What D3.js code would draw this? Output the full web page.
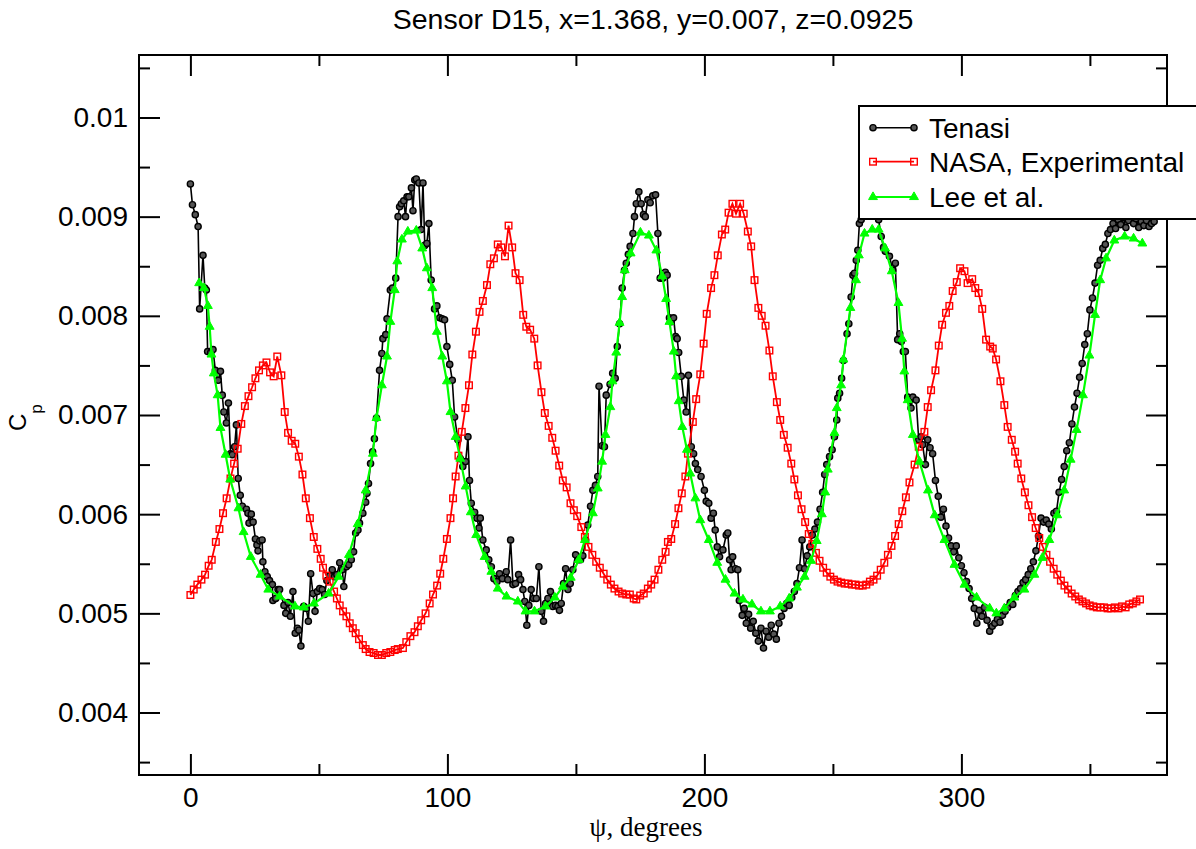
<!DOCTYPE html>
<html><head><meta charset="utf-8">
<script src="https://cdn.jsdelivr.net/npm/d3@7"></script>
<style>body{margin:0;background:#fff} svg{display:block}</style>
</head><body>
<svg id="chart" width="1196" height="849"></svg>
<script>
// ---------- data (psi in degrees, Cp) ----------
const tenasi = [
[0,0.00933],[0.8,0.00912],[1.9,0.00902],[3.0,0.0089],[3.6,0.00807],[4.9,0.00861],[5.6,0.00828],[6.2,0.00826],
[6.7,0.00764],[7.9,0.00763],[8.8,0.00766],[9.7,0.00745],[10.8,0.00735],[11.7,0.00744],[12.4,0.0072],[13.0,0.00703],
[14.0,0.00692],[14.8,0.00712],[15.6,0.00661],[16.3,0.0066],[17.2,0.00668],[17.9,0.0069],[18.6,0.00636],[19.4,0.00619],
[20.2,0.00608],[21.8,0.00605],[22.4,0.00601],[22.8,0.00591],[23.7,0.006],[24.4,0.00592],[25.3,0.00575],[25.9,0.00569],
[26.3,0.00563],[27.0,0.00573],[27.9,0.00574],[28.2,0.00552],[29.0,0.00542],[29.9,0.00537],[30.8,0.00533],[31.9,0.00529],
[32.1,0.00513],[33.2,0.00515],[34.1,0.00524],[34.7,0.00524],[36.4,0.00508],[37.1,0.005],[38.0,0.00511],[38.9,0.00497],
[39.9,0.00522],[40.8,0.0048],[41.6,0.00485],[42.2,0.00483],[43.0,0.00467],[44.1,0.00507],[45.1,0.00505],[45.9,0.00492],
[46.8,0.0054],[47.7,0.0052],[48.5,0.00502],[49.4,0.00522],[50.3,0.00525],[51.3,0.00524],[52.2,0.00519],[53.1,0.00533],
[54.2,0.00538],[55.2,0.00544],[56.1,0.00537],[57.0,0.00539],[58.1,0.00551],[59.1,0.00544],[59.7,0.00527],[60.7,0.00547],
[61.6,0.00549],[62.6,0.00554],[63.5,0.00562],[64.3,0.00581],[65.2,0.00584],[65.8,0.00591],[67.1,0.00601],[68.2,0.00612],
[68.7,0.00621],[69.3,0.00631],[70.1,0.00651],[70.9,0.00663],[71.6,0.00676],[72.4,0.00697],[73.6,0.00745],[74.5,0.00762],
[74.9,0.00777],[76.0,0.00781],[76.5,0.00797],[77.8,0.00826],[78.6,0.00828],[79.9,0.00838],[80.8,0.009],[81.4,0.0091],
[82.1,0.00913],[83.0,0.00916],[83.7,0.009],[84.3,0.0092],[85.0,0.0092],[86.0,0.00929],[86.6,0.00906],[87.3,0.00937],
[87.9,0.00938],[88.9,0.00934],[89.8,0.00887],[90.5,0.00934],[91.2,0.00871],[92.0,0.00873],[92.8,0.00893],[93.7,0.00836],
[95.0,0.00807],[95.9,0.0081],[97.0,0.00798],[98.0,0.00797],[98.9,0.00796],[99.8,0.00769],[100.9,0.00751],[101.9,0.00735],
[102.8,0.00698],[104.1,0.00675],[105.0,0.00656],[106.0,0.00648],[107.1,0.00653],[108.0,0.00678],[108.6,0.00634],[109.3,0.00611],
[110.6,0.00602],[111.5,0.00596],[112.3,0.00586],[112.8,0.00596],[113.8,0.00574],[115.1,0.00564],[116.1,0.00554],[117.1,0.00547],
[118.1,0.00535],[119.3,0.00532],[120.3,0.0054],[121.4,0.00535],[122.9,0.00542],[123.5,0.00534],[124.6,0.00574],[125.5,0.00529],
[126.5,0.0053],[127.7,0.00539],[128.5,0.00534],[129.4,0.00524],[130.1,0.00512],[130.9,0.00488],[131.7,0.00508],[132.6,0.00524],
[133.5,0.00515],[134.6,0.00515],[135.6,0.00547],[136.5,0.00502],[137.4,0.00492],[138.2,0.0051],[139.1,0.00515],[140.1,0.00522],
[141.0,0.00507],[142.1,0.00508],[143.0,0.00507],[143.6,0.00503],[144.3,0.0051],[145.2,0.0053],[146.0,0.00545],[146.9,0.00524],
[147.8,0.0053],[148.8,0.00544],[149.9,0.00559],[150.9,0.00554],[151.8,0.00554],[152.7,0.00558],[153.8,0.00574],[154.6,0.00589],
[155.7,0.00608],[156.6,0.00624],[157.6,0.00629],[158.5,0.00638],[159.0,0.00729],[160.2,0.00669],[161.1,0.00668],[161.8,0.0072],
[163.3,0.00731],[164.3,0.00742],[165.3,0.00737],[166.1,0.00769],[167.0,0.00792],[168.0,0.00828],[168.9,0.00846],[169.6,0.00853],
[170.4,0.00862],[171.1,0.0087],[172.2,0.00883],[172.8,0.009],[173.5,0.00913],[174.5,0.00925],[175.4,0.00913],[176.3,0.00902],
[177.0,0.009],[178.0,0.00917],[178.9,0.00914],[179.9,0.00921],[181.0,0.00922],[181.9,0.00883],[182.8,0.00838],[183.8,0.00838],
[184.8,0.00844],[185.5,0.00841],[186.4,0.00798],[187.1,0.00794],[188.0,0.00798],[188.8,0.00779],[189.4,0.00777],[190.0,0.00763],
[191.0,0.00739],[192.0,0.00715],[192.9,0.00703],[193.8,0.0074],[194.9,0.00668],[195.8,0.00661],[196.5,0.00651],[197.4,0.00645],
[198.7,0.00638],[200.0,0.00624],[200.7,0.00613],[201.7,0.00611],[202.6,0.00596],[203.5,0.00601],[204.2,0.00584],[205.0,0.00567],
[205.9,0.00557],[207.2,0.00564],[208.5,0.00579],[209.1,0.00581],[209.8,0.00554],[210.4,0.00544],[211.0,0.00557],[212.1,0.00545],
[213.0,0.00544],[213.6,0.00513],[214.7,0.00498],[215.5,0.00505],[216.3,0.0049],[217.2,0.00499],[218.0,0.00485],[219.0,0.00492],
[220.0,0.0048],[221.0,0.00472],[222.0,0.00485],[223.0,0.00465],[224.0,0.00482],[225.0,0.00476],[226.0,0.00488],[227.0,0.00479],
[228.0,0.00474],[229.0,0.0049],[230.0,0.00497],[231.0,0.00505],[232.0,0.0051],[233.0,0.00508],[234.0,0.00516],[235.0,0.00522],
[236.0,0.0053],[237.0,0.00546],[238.0,0.00574],[239.0,0.00545],[240.0,0.00558],[241.0,0.00567],[242.0,0.00579],[243.0,0.00585],
[244.0,0.00592],[245.0,0.00605],[246.0,0.00622],[246.8,0.0064],[247.6,0.0065],[248.7,0.00658],[249.7,0.00665],[250.6,0.00678],
[251.5,0.00695],[251.9,0.00717],[252.6,0.00722],[253.4,0.00737],[254.1,0.00755],[255.5,0.00782],[256.2,0.00792],[257.1,0.00819],
[257.8,0.00841],[258.4,0.00843],[259.1,0.00856],[259.7,0.00866],[260.3,0.00893],[261.0,0.00897],[262.7,0.00907],[264.3,0.00917],
[265.8,0.00922],[267.0,0.00915],[267.8,0.00897],[268.8,0.0088],[269.7,0.00869],[270.4,0.00865],[272.0,0.0086],[273.3,0.00846],
[274.3,0.00853],[275.2,0.00776],[276.0,0.00782],[276.6,0.00774],[277.4,0.00764],[278.2,0.00764],[279.1,0.00718],[279.8,0.00715],
[280.4,0.00707],[281.1,0.00718],[282.4,0.00715],[283.4,0.00675],[284.3,0.00678],[284.9,0.0067],[286.0,0.0065],[286.9,0.00675],
[287.8,0.00667],[288.8,0.00661],[289.9,0.00634],[291,0.00618],[292,0.00597],[293,0.00605],[294,0.00588],[295,0.00576],
[296,0.00568],[297,0.00562],[298,0.00568],[299,0.00556],[300,0.00548],[301,0.00541],[302,0.00532],[303,0.00525],
[304,0.00515],[305,0.00505],[306,0.0049],[307,0.00503],[308,0.00497],[309,0.00506],[310,0.00493],[311,0.00482],
[312,0.00487],[313,0.0049],[314,0.00494],[315,0.00491],[316,0.00498],[317,0.00502],[318,0.00506],[319,0.00511],
[320,0.00509],[321,0.00518],[322,0.00522],[323,0.00525],[324,0.00531],[325,0.00534],[326,0.00539],[327,0.00545],
[328,0.00552],[329,0.00563],[330,0.00578],[331,0.00596],[332,0.00592],[333,0.00594],[334,0.0059],[335,0.00585],
[336,0.00601],[337,0.00603],[338,0.00622],[339,0.00635],[340,0.00648],[341,0.00664],[342,0.00672],[343,0.00691],
[344,0.00708],[345,0.00722],[346,0.00738],[347,0.00752],[348,0.00771],[349,0.00782],[350,0.00806],[351,0.00818],
[352,0.00833],[353,0.00851],[354,0.00856],[355,0.00868],[356,0.00872],[357,0.00883],[358,0.00887],[359,0.00893],
[360,0.00888],[361,0.00897],[362,0.00892],[363,0.00899],[364,0.00889],[365,0.00896],[366,0.00902],[367,0.00893],
[368,0.00898],[369,0.00889],[370,0.00895],[371,0.00891],[372,0.00896],[373,0.0089],[374,0.00893],[375,0.00895]
];

const nasa = [
[0,0.005185],[1.3,0.00524],[2.7,0.00529],[4.3,0.00534],[5.7,0.00539],[7.1,0.00548],[8.3,0.00554],[9.9,0.00572],
[11.3,0.00585],[12.7,0.00601],[14.1,0.00616],[15.6,0.00636],[17.0,0.00651],[18.4,0.00666],[19.8,0.00691],[21.2,0.00709],
[22.6,0.00719],[24.0,0.00728],[25.3,0.00737],[26.7,0.00745],[28.2,0.0075],[29.6,0.00753],[31.0,0.00743],[32.4,0.00739],
[33.8,0.00759],[35.4,0.0074],[36.7,0.00703],[38.0,0.00682],[39.4,0.00674],[40.8,0.00671],[42.2,0.00658],[43.6,0.0064],
[44.9,0.00616],[46.5,0.00596],[48.0,0.00577],[49.4,0.00565],[50.7,0.00555],[51.6,0.00546],[52.9,0.00538],[54.2,0.00532],
[55.9,0.00522],[57.0,0.00515],[58.1,0.00508],[59.4,0.00502],[60.7,0.00497],[62.0,0.0049],[63.2,0.00485],[64.3,0.0048],
[65.6,0.00474],[67.1,0.00468],[68.2,0.00464],[69.7,0.00461],[71.3,0.0046],[73.0,0.00458],[74.5,0.00458],[76.2,0.0046],
[77.8,0.00461],[79.5,0.00463],[80.7,0.00464],[82.7,0.00465],[84.0,0.00471],[85.6,0.00477],[87.2,0.00481],[88.5,0.00487],
[89.8,0.00493],[91.5,0.005],[93.1,0.0051],[94.4,0.00519],[96.0,0.00528],[97.2,0.0054],[98.4,0.00555],[99.8,0.00575],
[101.2,0.00596],[102.2,0.00616],[103.2,0.00638],[104.3,0.00659],[105.6,0.00683],[107.0,0.00707],[108.4,0.0073],[109.7,0.00761],
[111.1,0.00784],[112.5,0.00804],[113.8,0.00815],[115.4,0.00831],[116.7,0.00852],[118.1,0.00858],[119.6,0.00872],[121.0,0.00869],
[122.4,0.0086],[123.8,0.00891],[125.2,0.00869],[126.5,0.00843],[128.1,0.00836],[129.5,0.00801],[130.7,0.00789],[132.2,0.00786],
[133.8,0.00777],[135.1,0.0075],[136.6,0.00723],[137.9,0.00702],[139.4,0.00689],[140.8,0.00677],[142.1,0.00664],[143.5,0.00649],
[144.9,0.00634],[146.4,0.00627],[147.9,0.00611],[149.2,0.00604],[150.5,0.00598],[152.1,0.00587],[153.5,0.00577],[154.9,0.00567],
[156.4,0.00559],[157.9,0.00552],[159.3,0.00546],[160.8,0.0054],[162.2,0.00534],[163.6,0.00529],[165.0,0.00525],[166.6,0.00522],
[168.0,0.0052],[169.6,0.00519],[171.0,0.00519],[172.5,0.00515],[173.5,0.00514],[175.0,0.00518],[176.4,0.0052],[178.0,0.00525],
[179.3,0.00529],[180.6,0.00534],[182.1,0.00544],[183.6,0.00554],[184.9,0.00562],[185.8,0.00572],[187.1,0.00575],[188.6,0.0059],
[189.9,0.00606],[191.2,0.00621],[192.6,0.00638],[193.6,0.00661],[195.5,0.00693],[196.8,0.00716],[198.4,0.00741],[199.7,0.00772],
[200.9,0.00802],[202.6,0.00828],[203.9,0.00841],[205.2,0.00861],[206.8,0.00882],[208.1,0.00887],[209.4,0.00904],[210.9,0.00913],
[212.3,0.00903],[213.9,0.00913],[215.3,0.00903],[216.9,0.00885],[218.2,0.0087],[219.5,0.00836],[221.0,0.00808],[222.3,0.008],
[223.8,0.0079],[225.3,0.00765],[226.6,0.00739],[228.2,0.00713],[229.5,0.00695],[230.9,0.0068],[232.4,0.00667],[233.8,0.00651],
[235.0,0.00635],[236.4,0.00619],[237.8,0.00605],[239.2,0.00592],[240.6,0.0058],[242.0,0.0057],[243.4,0.00561],[244.8,0.00553],
[246.2,0.00546],[247.6,0.00541],[249.0,0.00537],[250.4,0.00534],[251.8,0.00532],[253.2,0.00531],[254.6,0.0053],[256.0,0.0053],
[257.4,0.00529],[258.8,0.00529],[260.2,0.00528],[261.6,0.00528],[263.0,0.00529],[264.4,0.00532],[265.8,0.00534],[267.2,0.00538],
[268.6,0.00544],[270.0,0.00551],[271.4,0.00559],[272.8,0.00568],[274.2,0.00578],[275.6,0.0059],[277.0,0.00603],[278.4,0.00617],
[279.8,0.00632],[281.8,0.0065],[283.4,0.00668],[285.6,0.00683],[286.9,0.00708],[288.2,0.00725],[289.9,0.00745],[291.2,0.0077],
[292.5,0.00791],[294.0,0.00803],[295.3,0.0081],[296.6,0.00825],[298.2,0.00834],[299.5,0.00848],[301.2,0.00845],[302.4,0.00833],
[304.2,0.00837],[305.4,0.00828],[306.7,0.00823],[308.1,0.00807],[309.6,0.00776],[311.2,0.00769],[312.2,0.00767],[313.5,0.00756],
[315.2,0.00734],[316.7,0.0071],[318.0,0.00688],[319.6,0.00675],[320.9,0.00663],[321.9,0.00651],[323.3,0.00636],[324.7,0.00622],
[326.1,0.00609],[327.5,0.00597],[328.9,0.00586],[330.3,0.00576],[331.7,0.00567],[333.1,0.00559],[334.5,0.00552],[335.9,0.00545],
[337.3,0.00539],[338.7,0.00533],[340.1,0.00528],[341.5,0.00524],[342.9,0.0052],[344.3,0.00517],[345.7,0.00514],[347.1,0.00512],
[348.5,0.0051],[349.9,0.00508],[351.3,0.00507],[352.7,0.00506],[354.1,0.00506],[355.5,0.00506],[356.9,0.00505],[358.3,0.00505],
[359.7,0.00506],[361.1,0.00505],[362.5,0.00507],[363.9,0.00506],[365.3,0.00509],[366.7,0.0051],[368.1,0.00512],[369.5,0.00514]
];

const lee = [
[3.4,0.00833],[5.3,0.00828],[6.8,0.0081],[7.5,0.00789],[8.2,0.00761],[9.1,0.00742],[10.6,0.0072],[11.7,0.00687],
[13.7,0.0066],[15.5,0.00635],[18.7,0.00606],[20.7,0.00582],[23.5,0.00557],[27.3,0.00539],[30.3,0.00524],[34.7,0.00517],
[40.7,0.00507],[44.1,0.00506],[48.1,0.0051],[53.8,0.0052],[57.7,0.00537],[61.7,0.00559],[65.1,0.0059],[68.2,0.00624],
[71.0,0.00661],[72.4,0.00697],[74.5,0.0073],[76.5,0.00759],[77.8,0.00794],[79.5,0.00826],[80.5,0.00855],[82.3,0.00877],
[84.6,0.00885],[87.9,0.00886],[90.2,0.00868],[92.0,0.00848],[94.1,0.00828],[95.9,0.00784],[98.0,0.00759],[99.8,0.00734],
[101.2,0.00703],[103.2,0.00678],[105.0,0.00656],[107.1,0.00628],[109.1,0.00602],[111.2,0.00579],[114.5,0.00557],[117.1,0.00542],
[119.6,0.00525],[123.0,0.00517],[127.4,0.00512],[130.4,0.00502],[133.9,0.00502],[138.2,0.00507],[141.8,0.00516],[144.9,0.00527],
[148.0,0.00536],[151.1,0.00554],[153.5,0.00574],[156.6,0.00601],[158.5,0.00626],[160.2,0.00653],[161.5,0.0068],[163.4,0.00708],
[164.2,0.00734],[165.7,0.00763],[167.0,0.00793],[168.0,0.00819],[169.0,0.00846],[171.3,0.00863],[175.1,0.00884],[178.4,0.00881],
[181.3,0.00866],[183.6,0.0084],[185.1,0.00817],[186.4,0.00794],[188.1,0.00764],[189.0,0.00739],[190.0,0.00714],[191.4,0.00688],
[193.2,0.00665],[194.5,0.00641],[196.5,0.00616],[198.4,0.00594],[201.7,0.00574],[205.0,0.00551],[208.2,0.00534],[211.7,0.0052],
[215.0,0.00514],[218.5,0.00509],[222.0,0.00502],[225.5,0.00502],[229.5,0.00507],[233.0,0.00515],[236.0,0.00526],[239.0,0.00537],
[241.5,0.00553],[243.7,0.00573],[245.7,0.006],[247.0,0.00622],[248.0,0.00645],[250.6,0.00682],[251.5,0.00707],[253.2,0.0073],
[254.1,0.00756],[256.8,0.00808],[259.0,0.00836],[260.1,0.00861],[262.3,0.00883],[265.3,0.00887],[267.8,0.00887],[270.3,0.00868],
[272.9,0.00845],[275.5,0.00813],[276.9,0.00777],[277.8,0.00744],[279.1,0.00715],[281.1,0.0068],[283.7,0.00653],[287.0,0.00624],
[289.6,0.00599],[293.4,0.00574],[297.3,0.00549],[301.2,0.00529],[305.9,0.00516],[311.0,0.00505],[313.6,0.005],[316.7,0.00505],
[320.6,0.00516],[324.5,0.00524],[328.4,0.00539],[331.5,0.00556],[334.2,0.00574],[337.3,0.00599],[340.0,0.00624],[342.5,0.00655],
[344.8,0.00685],[347.3,0.0072],[349.8,0.0076],[352.0,0.00801],[354.0,0.00836],[356.3,0.00858],[359.5,0.00876],[363.5,0.0088],
[367.0,0.00878],[370.4,0.00873]
];

const seriesNames = ["Tenasi", "NASA, Experimental", "Lee et al."];
const xMajorTicks = [0, 100, 200, 300];
const xMinorTicks = [50, 150, 250, 350];
const yMajorTicks = [0.004, 0.005, 0.006, 0.007, 0.008, 0.009, 0.010];
const yTickLabels = ["0.004", "0.005", "0.006", "0.007", "0.008", "0.009", "0.01"];
const yMinorTicks = [0.0035, 0.0045, 0.0055, 0.0065, 0.0075, 0.0085, 0.0095, 0.0105];
const titleText = "Sensor D15, x=1.368, y=0.007, z=0.0925";
const xLabelText = "ψ, degrees";

// ---------- drawing ----------
const svg = d3.select("#chart");
const L = 139, R = 1167, T = 55, B = 775;
const x = d3.scaleLinear().domain([-20, 380]).range([L, R]);
const y = d3.scaleLinear().domain([0.00337, 0.01063]).range([B, T]);
const sans = "'Liberation Sans', Arial, Helvetica, sans-serif";
const serif = "'Liberation Serif', 'Times New Roman', serif";

function styleAxis(g) {
  g.select(".domain").remove();
  g.selectAll(".tick line").attr("stroke", "#000").attr("stroke-width", 2);
  g.selectAll(".tick text").attr("font-family", sans).attr("font-size", 28).attr("fill", "#000");
}

svg.append("g").attr("transform", `translate(0,${B})`)
  .call(d3.axisBottom(x).tickValues(xMajorTicks).tickSizeInner(-21).tickSizeOuter(0).tickPadding(12).tickFormat(d3.format("d")))
  .call(styleAxis);
svg.append("g").attr("transform", `translate(0,${B})`)
  .call(d3.axisBottom(x).tickValues(xMinorTicks).tickSizeInner(-11).tickSizeOuter(0).tickFormat(""))
  .call(styleAxis);
svg.append("g").attr("transform", `translate(0,${T})`)
  .call(d3.axisTop(x).tickValues(xMajorTicks).tickSizeInner(-21).tickSizeOuter(0).tickFormat(""))
  .call(styleAxis);
svg.append("g").attr("transform", `translate(0,${T})`)
  .call(d3.axisTop(x).tickValues(xMinorTicks).tickSizeInner(-11).tickSizeOuter(0).tickFormat(""))
  .call(styleAxis);
svg.append("g").attr("transform", `translate(${L},0)`)
  .call(d3.axisLeft(y).tickValues(yMajorTicks).tickSizeInner(-21).tickSizeOuter(0).tickPadding(11)
    .tickFormat((d, i) => yTickLabels[i]))
  .call(styleAxis);
svg.append("g").attr("transform", `translate(${L},0)`)
  .call(d3.axisLeft(y).tickValues(yMinorTicks).tickSizeInner(-11).tickSizeOuter(0).tickFormat(""))
  .call(styleAxis);
svg.append("g").attr("transform", `translate(${R},0)`)
  .call(d3.axisRight(y).tickValues(yMajorTicks).tickSizeInner(-21).tickSizeOuter(0).tickFormat(""))
  .call(styleAxis);
svg.append("g").attr("transform", `translate(${R},0)`)
  .call(d3.axisRight(y).tickValues(yMinorTicks).tickSizeInner(-11).tickSizeOuter(0).tickFormat(""))
  .call(styleAxis);

svg.append("rect").attr("x", L).attr("y", T).attr("width", R - L).attr("height", B - T)
  .attr("fill", "none").attr("stroke", "#000").attr("stroke-width", 2);

const line = d3.line().x(d => x(d[0])).y(d => y(d[1]));
const tri = d3.symbol().type(d3.symbolTriangle).size(34);

function drawCircles(g, data) {
  g.selectAll("circle").data(data).join("circle")
    .attr("cx", d => x(d[0])).attr("cy", d => y(d[1])).attr("r", 3.1)
    .attr("fill", "#555").attr("stroke", "#000").attr("stroke-width", 1.4);
}
function drawSquares(g, data) {
  g.selectAll("rect").data(data).join("rect")
    .attr("x", d => x(d[0]) - 3.3).attr("y", d => y(d[1]) - 3.3).attr("width", 6.6).attr("height", 6.6)
    .attr("fill", "none").attr("stroke", "#ff0000").attr("stroke-width", 1.4);
}
function drawTriangles(g, data) {
  g.selectAll("path").data(data).join("path")
    .attr("transform", d => `translate(${x(d[0])},${y(d[1])})`).attr("d", tri)
    .attr("fill", "#00ff00").attr("stroke", "#00ff00").attr("stroke-width", 1);
}

const gT = svg.append("g");
gT.append("path").datum(tenasi).attr("d", line).attr("fill", "none").attr("stroke", "#000").attr("stroke-width", 1.6);
drawCircles(gT.append("g"), tenasi);
const gN = svg.append("g");
gN.append("path").datum(nasa).attr("d", line).attr("fill", "none").attr("stroke", "#ff0000").attr("stroke-width", 1.8);
drawSquares(gN.append("g"), nasa);
const gL = svg.append("g");
gL.append("path").datum(lee).attr("d", line).attr("fill", "none").attr("stroke", "#00ff00").attr("stroke-width", 2.2);
drawTriangles(gL.append("g"), lee);

svg.append("text").attr("x", 653).attr("y", 28.5).attr("text-anchor", "middle")
  .attr("font-family", sans).attr("font-size", 28.5).attr("fill", "#000").text(titleText);

svg.append("text").attr("x", 646).attr("y", 836).attr("text-anchor", "middle")
  .attr("font-family", serif).attr("font-size", 27).attr("fill", "#000").text(xLabelText);

const yl = svg.append("text").attr("transform", "translate(26,431) rotate(-90)")
  .attr("font-family", sans).attr("fill", "#000");
yl.append("tspan").attr("font-size", 24).text("C");
yl.append("tspan").attr("font-size", 17).attr("dy", 16).text("p");

const lg = svg.append("g");
lg.append("rect").attr("x", 859).attr("y", 106).attr("width", 345).attr("height", 113)
  .attr("fill", "#fff").attr("stroke", "#000").attr("stroke-width", 2);
const legY = [127.7, 161.7, 197];
const legColors = ["#000", "#ff0000", "#00ff00"];
const legWidths = [1.6, 1.8, 2.2];
seriesNames.forEach((name, i) => {
  const yy = legY[i];
  lg.append("line").attr("x1", 873).attr("x2", 914).attr("y1", yy).attr("y2", yy)
    .attr("stroke", legColors[i]).attr("stroke-width", legWidths[i]);
  [873, 914].forEach(xx => {
    if (i === 0) {
      lg.append("circle").attr("cx", xx).attr("cy", yy).attr("r", 3.1)
        .attr("fill", "#555").attr("stroke", "#000").attr("stroke-width", 1.4);
    } else if (i === 1) {
      lg.append("rect").attr("x", xx - 3.3).attr("y", yy - 3.3).attr("width", 6.6).attr("height", 6.6)
        .attr("fill", "none").attr("stroke", "#ff0000").attr("stroke-width", 1.4);
    } else {
      lg.append("path").attr("transform", `translate(${xx},${yy})`).attr("d", tri)
        .attr("fill", "#00ff00").attr("stroke", "#00ff00").attr("stroke-width", 1);
    }
  });
  lg.append("text").attr("x", 929).attr("y", yy + 10).attr("font-family", sans).attr("font-size", 28)
    .attr("fill", "#000").text(name);
});
</script>
</body></html>
